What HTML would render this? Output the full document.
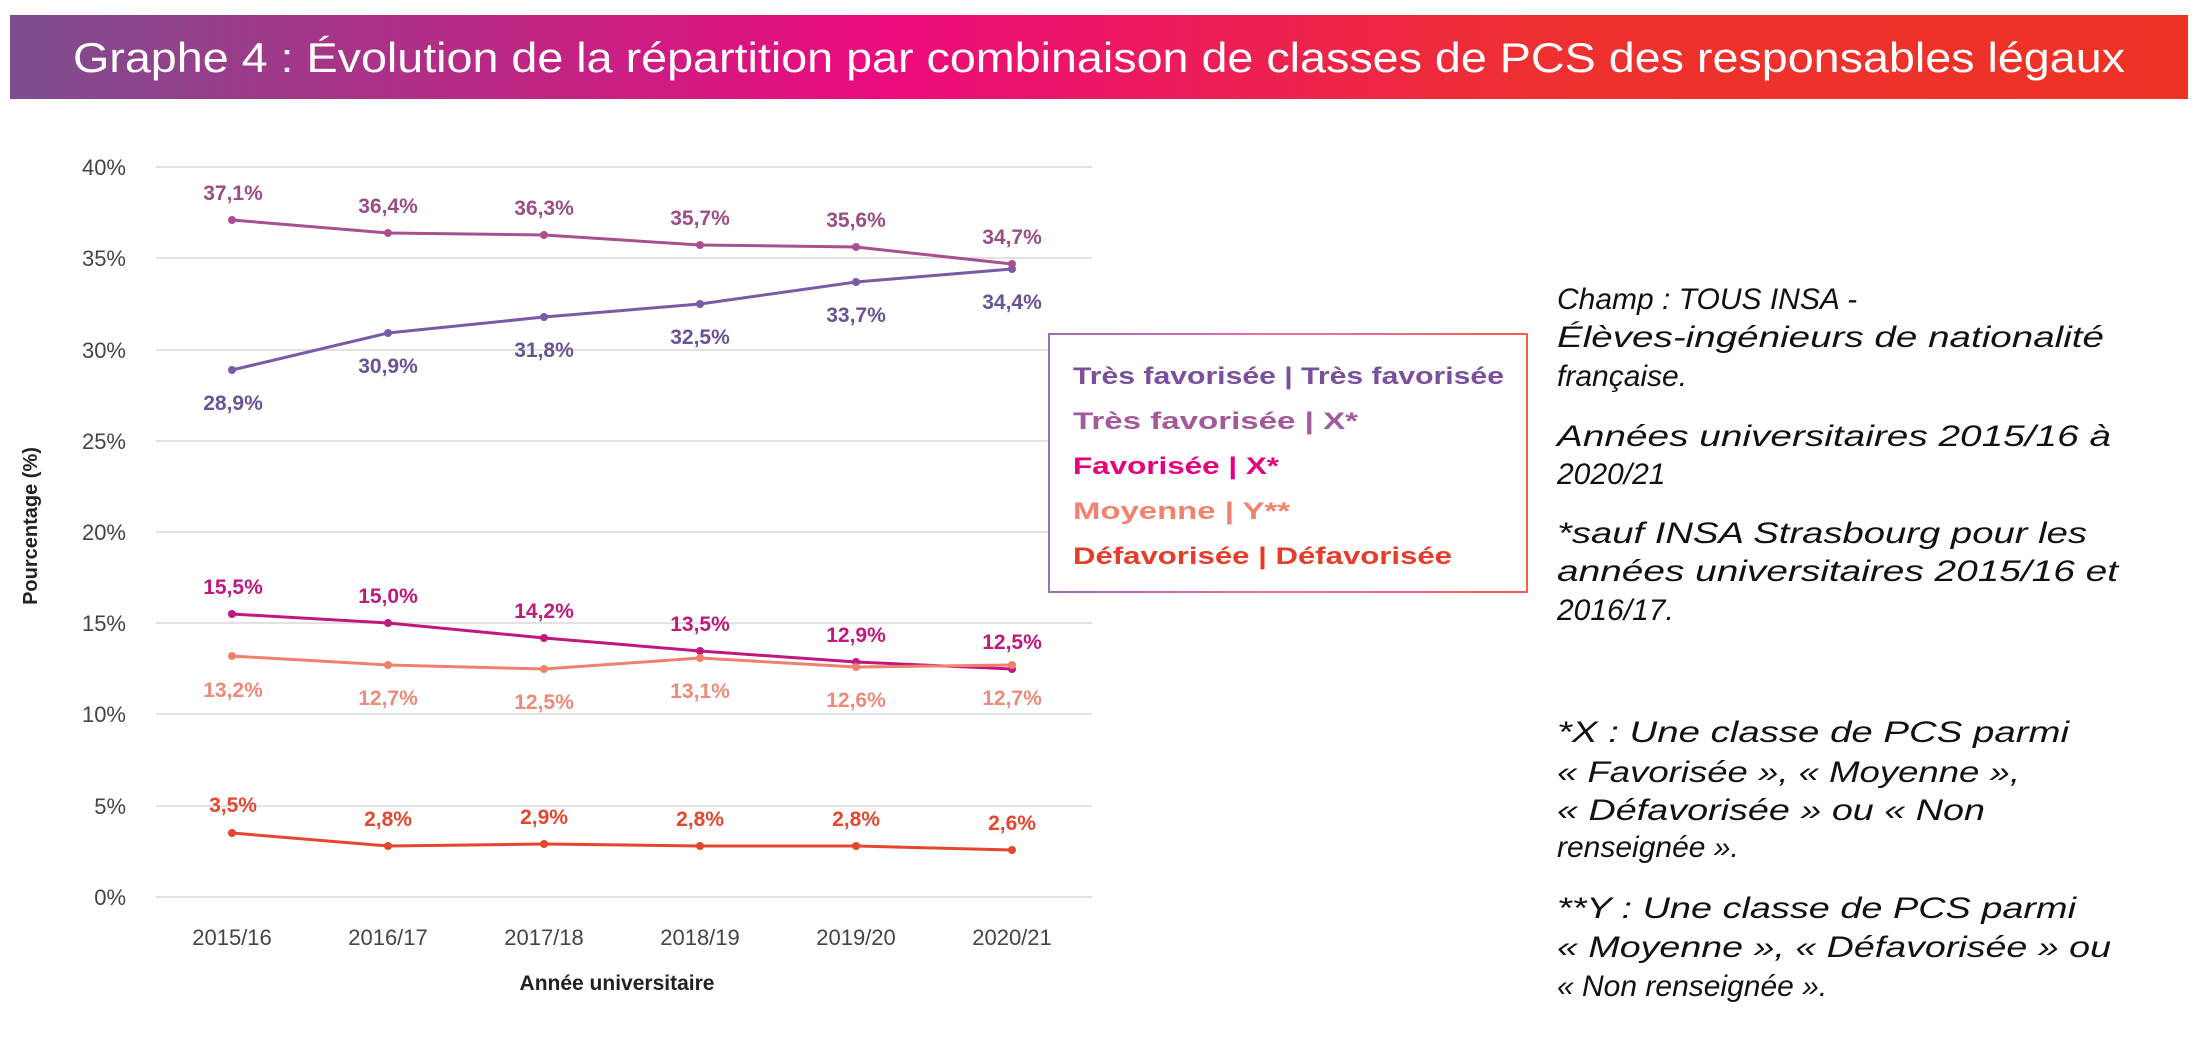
<!DOCTYPE html>
<html><head><meta charset="utf-8"><style>
html,body{margin:0;padding:0;background:#fff;}
svg{display:block;}
</style></head><body>
<svg width="2200" height="1040" xmlns="http://www.w3.org/2000/svg" font-family="Liberation Sans, sans-serif">
<defs>
<linearGradient id="tg" x1="0" x2="1" y1="0" y2="0">
<stop offset="0" stop-color="#7d4e8e"/>
<stop offset="0.4" stop-color="#ec0a7e"/>
<stop offset="0.7" stop-color="#ee3030"/>
<stop offset="1" stop-color="#ee3224"/>
</linearGradient>
<linearGradient id="lg" x1="0" x2="1" y1="0" y2="0">
<stop offset="0" stop-color="#9b6fb5"/>
<stop offset="0.5" stop-color="#f06bb0"/>
<stop offset="1" stop-color="#f0604a"/>
</linearGradient>
</defs>
<rect x="10" y="15" width="2178" height="84" fill="url(#tg)"/>
<text x="73" y="72" fill="#fff" font-size="42" textLength="2052" lengthAdjust="spacingAndGlyphs">Graphe 4 : Évolution de la répartition par combinaison de classes de PCS des responsables légaux</text>

<g stroke="#e2e2e2" stroke-width="2">
<line x1="156" x2="1092" y1="167" y2="167"/>
<line x1="156" x2="1092" y1="258" y2="258"/>
<line x1="156" x2="1092" y1="350" y2="350"/>
<line x1="156" x2="1092" y1="441" y2="441"/>
<line x1="156" x2="1092" y1="532" y2="532"/>
<line x1="156" x2="1092" y1="623" y2="623"/>
<line x1="156" x2="1092" y1="714" y2="714"/>
<line x1="156" x2="1092" y1="806" y2="806"/>
<line x1="156" x2="1092" y1="897" y2="897"/>
</g>
<g font-size="22" fill="#444" text-anchor="end">
<text x="126" y="175">40%</text><text x="126" y="266">35%</text><text x="126" y="358">30%</text>
<text x="126" y="449">25%</text><text x="126" y="540">20%</text><text x="126" y="631">15%</text>
<text x="126" y="722">10%</text><text x="126" y="814">5%</text><text x="126" y="905">0%</text>
</g>
<text transform="translate(37,526) rotate(-90)" text-anchor="middle" font-size="20" font-weight="bold" fill="#222">Pourcentage (%)</text>
<g font-size="22" fill="#444" text-anchor="middle">
<text x="232" y="945">2015/16</text><text x="388" y="945">2016/17</text><text x="544" y="945">2017/18</text>
<text x="700" y="945">2018/19</text><text x="856" y="945">2019/20</text><text x="1012" y="945">2020/21</text>
</g>
<text x="617" y="990" text-anchor="middle" font-size="21" font-weight="bold" fill="#222">Année universitaire</text>

<g fill="none" stroke-width="3">
<polyline stroke="#7a5aa6" points="232,370 388,333 544,317 700,304 856,282 1012,269"/>
<polyline stroke="#a8508f" points="232,220 388,233 544,235 700,245 856,247 1012,264"/>
<polyline stroke="#c0187f" points="232,614 388,623 544,638 700,651 856,662 1012,669"/>
<polyline stroke="#f0806e" points="232,656 388,665 544,669 700,658 856,667 1012,665"/>
<polyline stroke="#e4472e" points="232,833 388,846 544,844 700,846 856,846 1012,850"/>
</g>
<g>
<g fill="#7a5aa6"><circle cx="232" cy="370" r="4"/><circle cx="388" cy="333" r="4"/><circle cx="544" cy="317" r="4"/><circle cx="700" cy="304" r="4"/><circle cx="856" cy="282" r="4"/><circle cx="1012" cy="269" r="4"/></g>
<g fill="#a8508f"><circle cx="232" cy="220" r="4"/><circle cx="388" cy="233" r="4"/><circle cx="544" cy="235" r="4"/><circle cx="700" cy="245" r="4"/><circle cx="856" cy="247" r="4"/><circle cx="1012" cy="264" r="4"/></g>
<g fill="#c0187f"><circle cx="232" cy="614" r="4"/><circle cx="388" cy="623" r="4"/><circle cx="544" cy="638" r="4"/><circle cx="700" cy="651" r="4"/><circle cx="856" cy="662" r="4"/><circle cx="1012" cy="669" r="4"/></g>
<g fill="#f0806e"><circle cx="232" cy="656" r="4"/><circle cx="388" cy="665" r="4"/><circle cx="544" cy="669" r="4"/><circle cx="700" cy="658" r="4"/><circle cx="856" cy="667" r="4"/><circle cx="1012" cy="665" r="4"/></g>
<g fill="#e4472e"><circle cx="232" cy="833" r="4"/><circle cx="388" cy="846" r="4"/><circle cx="544" cy="844" r="4"/><circle cx="700" cy="846" r="4"/><circle cx="856" cy="846" r="4"/><circle cx="1012" cy="850" r="4"/></g>
</g>
<g font-size="21" font-weight="bold" text-anchor="middle">
<g fill="#9b4d86">
<text x="233" y="200">37,1%</text><text x="388" y="213">36,4%</text><text x="544" y="215">36,3%</text>
<text x="700" y="225">35,7%</text><text x="856" y="227">35,6%</text><text x="1012" y="244">34,7%</text>
</g>
<g fill="#6a5296">
<text x="233" y="410">28,9%</text><text x="388" y="373">30,9%</text><text x="544" y="357">31,8%</text>
<text x="700" y="344">32,5%</text><text x="856" y="322">33,7%</text><text x="1012" y="309">34,4%</text>
</g>
<g fill="#c0187f">
<text x="233" y="594">15,5%</text><text x="388" y="603">15,0%</text><text x="544" y="618">14,2%</text>
<text x="700" y="631">13,5%</text><text x="856" y="642">12,9%</text><text x="1012" y="649">12,5%</text>
</g>
<g fill="#ee8a7a">
<text x="233" y="697">13,2%</text><text x="388" y="705">12,7%</text><text x="544" y="709">12,5%</text>
<text x="700" y="698">13,1%</text><text x="856" y="707">12,6%</text><text x="1012" y="705">12,7%</text>
</g>
<g fill="#e4472e">
<text x="233" y="812">3,5%</text><text x="388" y="826">2,8%</text><text x="544" y="824">2,9%</text>
<text x="700" y="826">2,8%</text><text x="856" y="826">2,8%</text><text x="1012" y="830">2,6%</text>
</g>
</g>

<rect x="1049" y="334" width="478" height="258" fill="#fff" stroke="url(#lg)" stroke-width="2"/>
<g font-size="24" font-weight="bold">
<text x="1073" y="384" fill="#7a4f9b" textLength="431" lengthAdjust="spacingAndGlyphs">Très favorisée | Très favorisée</text>
<text x="1073" y="429" fill="#a35a9c" textLength="285" lengthAdjust="spacingAndGlyphs">Très favorisée | X*</text>
<text x="1073" y="474" fill="#e6007e" textLength="206" lengthAdjust="spacingAndGlyphs">Favorisée | X*</text>
<text x="1073" y="519" fill="#f0826e" textLength="217" lengthAdjust="spacingAndGlyphs">Moyenne | Y**</text>
<text x="1073" y="564" fill="#e63c2a" textLength="379" lengthAdjust="spacingAndGlyphs">Défavorisée | Défavorisée</text>
</g>

<g font-size="30" font-style="italic" fill="#111">
<text x="1557" y="309">Champ : TOUS INSA -</text>
<text x="1557" y="347" textLength="547" lengthAdjust="spacingAndGlyphs">Élèves-ingénieurs de nationalité</text>
<text x="1557" y="386">française.</text>
<text x="1557" y="446" textLength="554" lengthAdjust="spacingAndGlyphs">Années universitaires 2015/16 à</text>
<text x="1557" y="484">2020/21</text>
<text x="1557" y="543" textLength="530" lengthAdjust="spacingAndGlyphs">*sauf INSA Strasbourg pour les</text>
<text x="1557" y="581" textLength="561" lengthAdjust="spacingAndGlyphs">années universitaires 2015/16 et</text>
<text x="1557" y="620">2016/17.</text>
<text x="1557" y="742" textLength="512" lengthAdjust="spacingAndGlyphs">*X : Une classe de PCS parmi</text>
<text x="1557" y="782" textLength="463" lengthAdjust="spacingAndGlyphs">« Favorisée », « Moyenne »,</text>
<text x="1557" y="820" textLength="428" lengthAdjust="spacingAndGlyphs">« Défavorisée » ou « Non</text>
<text x="1557" y="857">renseignée ».</text>
<text x="1557" y="918" textLength="519" lengthAdjust="spacingAndGlyphs">**Y : Une classe de PCS parmi</text>
<text x="1557" y="957" textLength="554" lengthAdjust="spacingAndGlyphs">« Moyenne », « Défavorisée » ou</text>
<text x="1557" y="996">« Non renseignée ».</text>
</g>
</svg>
</body></html>
